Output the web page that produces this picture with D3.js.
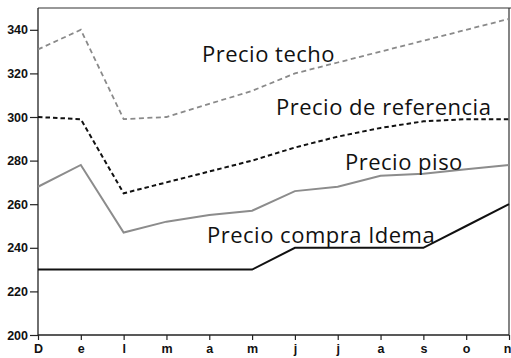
<!DOCTYPE html>
<html><head><meta charset="utf-8">
<script src="https://cdn.jsdelivr.net/npm/d3@7"></script>
<style>body{margin:0;background:#fff;}svg{display:block;}</style>
</head><body>
<svg id="c" width="511" height="358"></svg>
<script>
const months = ["D","e","l","m","a","m","j","j","a","s","o","n"];
const yTicks = [200,220,240,260,280,300,320,340];
const techo = [331,340,299,300,306,312,320,325,330,335,340,345];
const referencia = [300,299,265,270,275,280,286,291,295,298,299,299];
const piso = [268,278,247,252,255,257,266,268,273,274,276,278];
const idema = [230,230,230,230,230,230,240,240,240,240,250,260];
const labels = [
  {text:"Precio techo", x:202, y:62},
  {text:"Precio de referencia", x:276, y:115},
  {text:"Precio piso", x:345, y:170},
  {text:"Precio compra Idema", x:207, y:243}
];

const svg = d3.select("#c");
const L=38, R=509, T=8, B=335;
const x = d3.scalePoint().domain(d3.range(months.length)).range([L,R]);
const y = d3.scaleLinear().domain([200,350]).range([B,T]);

// frame
svg.append("line").attr("x1",L).attr("x2",511).attr("y1",T).attr("y2",T).attr("stroke","#333").attr("stroke-width",1.2);
svg.append("line").attr("x1",R).attr("x2",R).attr("y1",T).attr("y2",B).attr("stroke","#333").attr("stroke-width",1.2);

const yAxis = svg.append("g").attr("transform",`translate(${L},0)`)
  .call(d3.axisLeft(y).tickValues(yTicks).tickSize(8).tickPadding(2));
const xAxis = svg.append("g").attr("transform",`translate(0,${B})`)
  .call(d3.axisBottom(x).tickSize(5).tickPadding(4).tickFormat(i=>months[i]));
[yAxis,xAxis].forEach(g=>{
  g.select(".domain").attr("stroke","#222").attr("stroke-width",1.3);
  g.selectAll(".tick line").attr("stroke","#222").attr("stroke-width",1.2);
  g.selectAll("text").attr("fill","#111").style("font-family","Liberation Sans, Arial, sans-serif")
   .style("font-size","12.5px").style("font-weight","bold");
});
yAxis.select(".domain").attr("d",`M0,${T}V${B}`);
xAxis.select(".domain").attr("d",`M${L},0H${R}`);
xAxis.selectAll(".tick").filter((d,i,n)=>i===n.length-1).select("text").attr("text-anchor","end").attr("dx","2");

const line = d3.line().x((d,i)=>x(i)).y(d=>y(d));
svg.append("path").datum(techo).attr("d",line).attr("fill","none").attr("stroke","#8a8a8a").attr("stroke-width",1.8).attr("stroke-dasharray","5,3.5");
svg.append("path").datum(referencia).attr("d",line).attr("fill","none").attr("stroke","#111").attr("stroke-width",2).attr("stroke-dasharray","4.5,3");
svg.append("path").datum(piso).attr("d",line).attr("fill","none").attr("stroke","#8c8c8c").attr("stroke-width",2);
svg.append("path").datum(idema).attr("d",line).attr("fill","none").attr("stroke","#111").attr("stroke-width",2);

svg.selectAll(".lbl").data(labels).enter().append("text")
  .attr("x",d=>d.x).attr("y",d=>d.y).text(d=>d.text)
  .attr("fill","#111").style("font-family","Open Sans, sans-serif").style("font-size","22px")
  .style("letter-spacing","0.5px");
</script>
</body></html>
